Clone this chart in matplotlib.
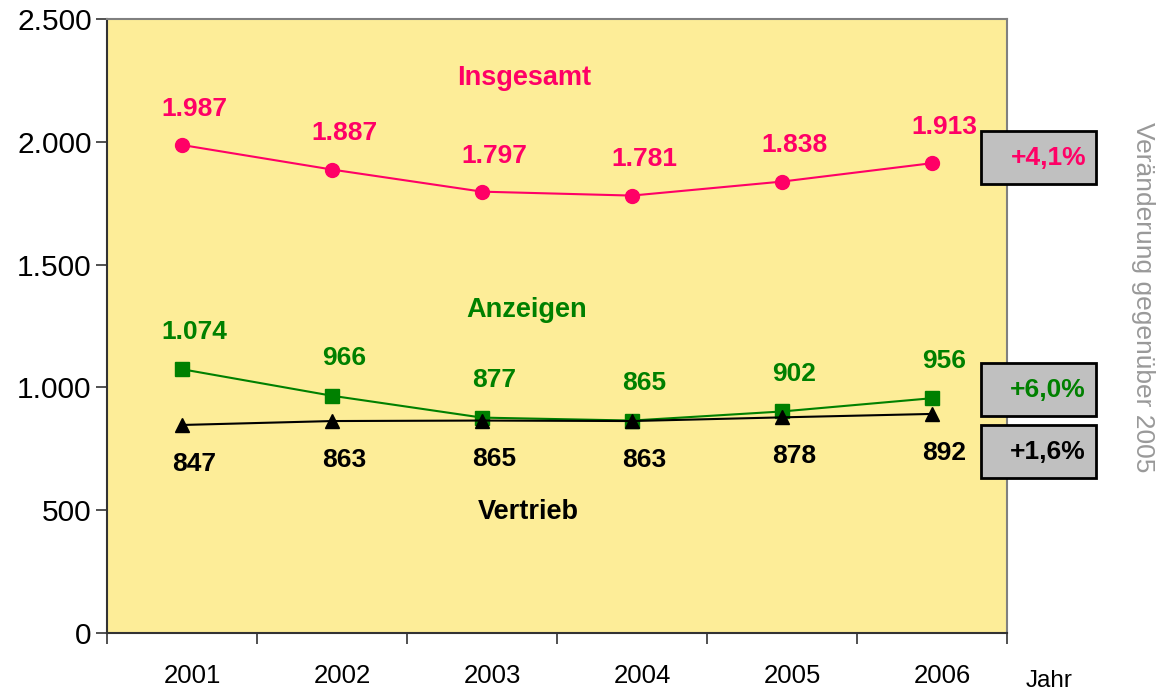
import matplotlib
matplotlib.use("Agg")
import matplotlib.pyplot as plt
import matplotlib.transforms as mtransforms
from matplotlib.patches import Rectangle
from matplotlib.ticker import FuncFormatter, FixedLocator

plt.rcParams['font.family'] = ['Liberation Sans', 'DejaVu Sans']

years = ["2001", "2002", "2003", "2004", "2005", "2006"]
insgesamt = [1987, 1887, 1797, 1781, 1838, 1913]
anzeigen = [1074, 966, 877, 865, 902, 956]
vertrieb = [847, 863, 865, 863, 878, 892]
y_ticks = [0, 500, 1000, 1500, 2000, 2500]

PINK = "#FF0066"
GREEN = "#008000"
BLACK = "#000000"
YELLOW = "#FDED98"
W, H = 1166, 693

fig = plt.figure(figsize=(W / 100, H / 100), dpi=100)
ax = fig.add_axes([107 / W, (H - 633) / H, 900 / W, 614 / H])
ax.set_facecolor(YELLOW)

x = list(range(len(years)))

def de(v):
    return f"{v:,}".replace(",", ".")

ax.plot(x, insgesamt, color=PINK, lw=1.5, marker="o", ms=10, zorder=3)
ax.plot(x, anzeigen, color=GREEN, lw=1.5, marker="s", ms=10, zorder=3)
ax.plot(x, vertrieb, color=BLACK, lw=1.5, marker="^", ms=10, zorder=3)

LBL = 19
for xi, v in zip(x, insgesamt):
    ax.annotate(de(v), (xi, v), xytext=(9, 26), textcoords="offset points",
                ha="center", va="center", color=PINK, fontsize=LBL, fontweight="bold")
for xi, v in zip(x, anzeigen):
    ax.annotate(de(v), (xi, v), xytext=(9, 27), textcoords="offset points",
                ha="center", va="center", color=GREEN, fontsize=LBL, fontweight="bold")
for xi, v in zip(x, vertrieb):
    ax.annotate(de(v), (xi, v), xytext=(9, -28), textcoords="offset points",
                ha="center", va="center", color=BLACK, fontsize=LBL, fontweight="bold")

NM = 19.5
ax.text(0.463, 2260, "Insgesamt", transform=ax.get_yaxis_transform(), ha="center",
        va="center", color=PINK, fontsize=NM, fontweight="bold")
ax.text(0.466, 1315, "Anzeigen", transform=ax.get_yaxis_transform(), ha="center",
        va="center", color=GREEN, fontsize=NM, fontweight="bold")
ax.text(0.468, 493, "Vertrieb", transform=ax.get_yaxis_transform(), ha="center",
        va="center", color=BLACK, fontsize=NM, fontweight="bold")

ax.set_xlim(-0.5, len(years) - 0.5)
ax.set_ylim(0, 2500)
ax.set_yticks(y_ticks)
ax.yaxis.set_major_formatter(FuncFormatter(lambda v, p: de(int(v))))
ax.tick_params(axis="y", labelsize=21.5, length=8, width=1.2, pad=3, colors="#333333", labelcolor="black")

ax.xaxis.set_major_locator(FixedLocator([i - 0.5 for i in range(len(years) + 1)]))
ax.xaxis.set_minor_locator(FixedLocator(x))
ax.set_xticklabels([])
ax.set_xticklabels(years, minor=True)
ax.tick_params(axis="x", which="major", length=8, width=1.2, colors="#333333")
ax.tick_params(axis="x", which="minor", length=0, pad=22, labelsize=18.5)
shift = mtransforms.ScaledTranslation(10 / 100, 0, fig.dpi_scale_trans)
for lbl in ax.xaxis.get_minorticklabels():
    lbl.set_transform(lbl.get_transform() + shift)

for s in ["left", "bottom"]:
    ax.spines[s].set_color("#333333")
    ax.spines[s].set_linewidth(1.5)
for s in ["top", "right"]:
    ax.spines[s].set_color("#808080")
    ax.spines[s].set_linewidth(1.5)

fig.text(1049 / W, 1 - 681 / H, "Jahr", ha="center", va="center", fontsize=17.5)
fig.text(1143 / W, 1 - 297 / H, "Veränderung gegenüber 2005", rotation=-90,
         ha="center", va="center", fontsize=19, color="#999999")

def pct(series):
    c = (series[-1] / series[-2] - 1) * 100
    return f"+{c:.1f}%".replace(".", ",")

boxes = [(131, pct(insgesamt), PINK), (363, pct(anzeigen), GREEN), (425, pct(vertrieb), BLACK)]
for top, txt, col in boxes:
    r = Rectangle((981 / W, 1 - (top + 53) / H), 115 / W, 53 / H, transform=fig.transFigure,
                  facecolor="#C0C0C0", edgecolor="black", lw=2, zorder=5)
    fig.patches.append(r)
    fig.text(1086 / W, 1 - (top + 27) / H, txt, ha="right", va="center", fontsize=19,
             fontweight="bold", color=col, zorder=6)

fig.savefig("out.png", dpi=100)
